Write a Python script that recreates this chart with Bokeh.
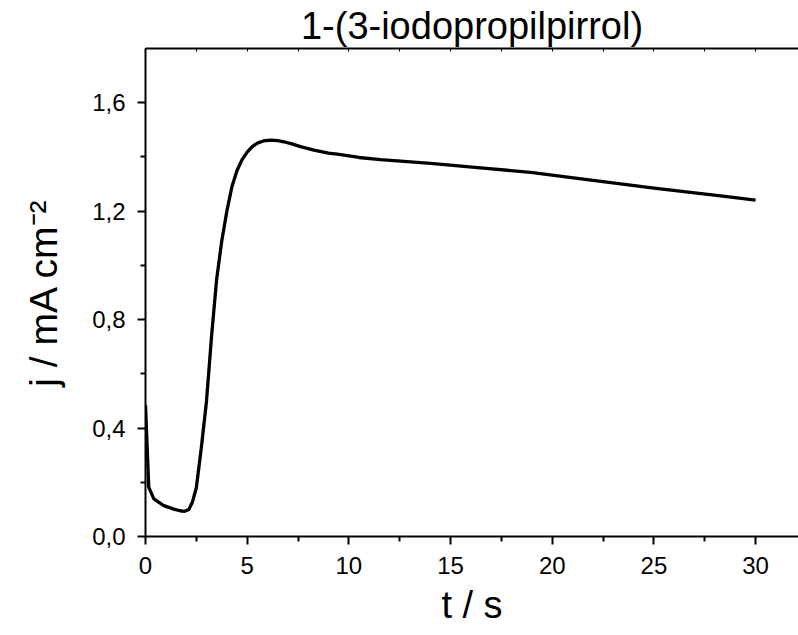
from bokeh.plotting import figure
from bokeh.models import (Range1d, FixedTicker, LinearAxis,
                          CustomJSTickFormatter)
from bokeh.embed import file_html
from bokeh.resources import INLINE

# ---- data ----
t_s = [0.0, 0.16, 0.41, 0.9, 1.39, 1.7, 1.92, 2.13, 2.3, 2.5, 2.75, 3.0,
       3.25, 3.5, 3.75, 4.0, 4.25, 4.5, 4.75, 5.0, 5.25, 5.5, 5.8, 6.15,
       6.5, 6.8, 7.2, 7.62, 8.28, 9.0, 9.43, 10.5, 11.56, 14.02, 16.48,
       18.94, 21.72, 25.0, 28.28, 30.0]
j_mA = [0.484, 0.182, 0.139, 0.114, 0.101, 0.095, 0.093, 0.100, 0.125, 0.18,
        0.33, 0.50, 0.74, 0.95, 1.09, 1.20, 1.29, 1.35, 1.39, 1.418, 1.438,
        1.451, 1.459, 1.462, 1.460, 1.456, 1.448, 1.438, 1.425, 1.414, 1.41,
        1.398, 1.39, 1.376, 1.36, 1.343, 1.316, 1.285, 1.256, 1.241]

x_major = [0, 5, 10, 15, 20, 25, 30]
x_minor = [2.5, 7.5, 12.5, 17.5, 22.5, 27.5]
y_major = [0.0, 0.4, 0.8, 1.2, 1.6]
y_minor = [0.2, 0.6, 1.0, 1.4]

title_text = "1-(3-iodopropilpirrol)"
x_label = "t / s"
y_label = "j / mA cm\u207b\u00b2"

FONT = "Liberation Sans"

p = figure(width=798, height=635, output_backend="svg", toolbar_location=None,
           x_range=Range1d(0, 32.11), y_range=Range1d(0, 1.8),
           x_axis_location=None, y_axis_location=None,
           min_border_left=145, min_border_right=0,
           min_border_top=48, min_border_bottom=99)
p.outline_line_color = None
p.xgrid.visible = False
p.ygrid.visible = False
p.background_fill_color = "white"
p.border_fill_color = "white"

p.title.text = title_text
p.title.align = "center"
p.title.text_font = FONT
p.title.text_font_size = "38px"
p.title.text_font_style = "normal"
p.title.text_color = "black"
p.title.standoff = 4

p.line(t_s, j_mA, line_color="black", line_width=3.3, line_join="round")

comma_fmt = CustomJSTickFormatter(code="return tick.toFixed(1).replace('.', ',');")
int_fmt = CustomJSTickFormatter(code="return tick.toFixed(0);")

def style(ax):
    ax.axis_line_width = 2
    ax.axis_line_color = "black"
    ax.major_tick_line_width = 2
    ax.minor_tick_line_width = 2
    ax.major_tick_line_color = "black"
    ax.minor_tick_line_color = "black"
    ax.major_label_text_font = FONT
    ax.major_label_text_font_size = "24px"
    ax.major_label_text_color = "black"
    ax.axis_label_text_font = FONT
    ax.axis_label_text_font_style = "normal"
    ax.axis_label_text_color = "black"

xaxis = LinearAxis(ticker=FixedTicker(ticks=x_major, minor_ticks=x_minor),
                   formatter=int_fmt, axis_label=x_label)
style(xaxis)
xaxis.major_tick_out = 8
xaxis.major_tick_in = 0
xaxis.minor_tick_out = 5
xaxis.minor_tick_in = 0
xaxis.major_label_standoff = 12
xaxis.axis_label_standoff = 7
xaxis.axis_label_text_font_size = "38px"
p.add_layout(xaxis, "below")

yaxis = LinearAxis(ticker=FixedTicker(ticks=y_major, minor_ticks=y_minor),
                   formatter=comma_fmt, axis_label=y_label)
style(yaxis)
yaxis.major_tick_out = 8
yaxis.major_tick_in = 0
yaxis.minor_tick_out = 5
yaxis.minor_tick_in = 0
yaxis.major_label_standoff = 12
yaxis.axis_label_standoff = 24
yaxis.axis_label_text_font_size = "39px"
p.add_layout(yaxis, "left")

top = LinearAxis(ticker=FixedTicker(ticks=x_major + x_minor, minor_ticks=[]),
                 major_label_text_font_size="0px")
top.axis_line_width = 2
top.axis_line_color = "black"
top.major_tick_in = 3
top.major_tick_out = 0
top.major_tick_line_width = 1
top.major_label_standoff = 0
top.major_label_text_alpha = 0
p.add_layout(top, "above")

open("out.html", "w").write(file_html(p, INLINE))
